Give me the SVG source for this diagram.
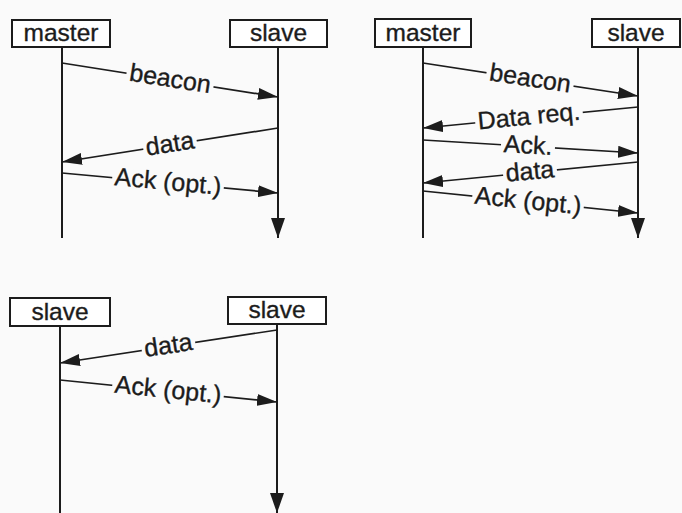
<svg xmlns="http://www.w3.org/2000/svg" width="682" height="513" viewBox="0 0 682 513">
  <style>
    .bg { fill: #fafafa; }
    .box { fill: #ffffff; stroke: #1c1c1c; stroke-width: 2; }
    .life { stroke: #1c1c1c; stroke-width: 2; fill: none; }
    .msg { stroke: #1c1c1c; stroke-width: 1.7; fill: none; }
    .name { font-family: "Liberation Sans", Arial, sans-serif; font-size: 24.5px; fill: #1c1c1c; stroke: #1c1c1c; stroke-width: 0.35; text-anchor: middle; }
    .lbl { font-family: "Liberation Sans", Arial, sans-serif; font-size: 25px; fill: #1c1c1c; stroke: #1c1c1c; stroke-width: 0.35; text-anchor: middle; }
    .lblbg { fill: #fafafa; }
  </style>
  <defs>
    <marker id="head" markerUnits="userSpaceOnUse" markerWidth="20" markerHeight="12" refX="20" refY="6" orient="auto">
      <path d="M0,0 L20,6 L0,12 Z" fill="#1c1c1c"/>
    </marker>
    <marker id="lifeEnd" markerUnits="userSpaceOnUse" markerWidth="20" markerHeight="14" refX="20" refY="7" orient="auto">
      <path d="M0,0 L20,7 L0,14 Z" fill="#1c1c1c"/>
    </marker>
  </defs>

  <rect class="bg" x="0" y="0" width="682" height="513"/>

  <!-- Scenario 1: beacon-triggered transfer -->
  <g id="p1-master">
    <line class="life" x1="62" y1="48" x2="62" y2="238"/>
    <rect class="box" x="12" y="20" width="98" height="27"/>
    <text class="name" x="61" y="41">master</text>
  </g>
  <g id="p1-slave">
    <line class="life" x1="278" y1="47" x2="278" y2="238" marker-end="url(#lifeEnd)"/>
    <rect class="box" x="230" y="20" width="97" height="27"/>
    <text class="name" x="278.5" y="41">slave</text>
  </g>

  <!-- Scenario 2: beacon with data request -->
  <g id="p2-master">
    <line class="life" x1="423" y1="48" x2="423" y2="238"/>
    <rect class="box" x="375" y="19" width="96" height="28"/>
    <text class="name" x="423" y="41">master</text>
  </g>
  <g id="p2-slave">
    <line class="life" x1="638" y1="47" x2="638" y2="238" marker-end="url(#lifeEnd)"/>
    <rect class="box" x="592" y="19" width="88" height="28"/>
    <text class="name" x="636" y="41">slave</text>
  </g>

  <!-- Scenario 3: peer-to-peer -->
  <g id="p3-slave-a">
    <line class="life" x1="60" y1="327" x2="60" y2="513"/>
    <rect class="box" x="10" y="298" width="100" height="28"/>
    <text class="name" x="60" y="320">slave</text>
  </g>
  <g id="p3-slave-b">
    <line class="life" x1="277" y1="325" x2="277" y2="513" marker-end="url(#lifeEnd)"/>
    <rect class="box" x="228" y="297" width="98" height="27"/>
    <text class="name" x="277" y="318">slave</text>
  </g>

  <g id="connectors">
    <!-- scenario 1 -->
    <line class="msg" x1="62" y1="63" x2="278" y2="97" marker-end="url(#head)"/>
    <g transform="translate(170,80) rotate(8.9)">
      <rect class="lblbg" x="-44" y="-10" width="88" height="20"/>
      <text class="lbl" x="0" y="7">beacon</text>
    </g>
    <line class="msg" x1="278" y1="128" x2="62" y2="162" marker-end="url(#head)"/>
    <g transform="translate(170,145) rotate(-8.9)">
      <rect class="lblbg" x="-27" y="-10" width="54" height="20"/>
      <text class="lbl" x="0" y="7">data</text>
    </g>
    <line class="msg" x1="62" y1="173" x2="278" y2="193" marker-end="url(#head)"/>
    <g transform="translate(168,183) rotate(5.3)">
      <rect class="lblbg" x="-56" y="-10" width="112" height="20"/>
      <text class="lbl" x="0" y="7">Ack (opt.)</text>
    </g>

    <!-- scenario 2 -->
    <line class="msg" x1="423" y1="63" x2="638" y2="96" marker-end="url(#head)"/>
    <g transform="translate(530,79.5) rotate(8.7)">
      <rect class="lblbg" x="-44" y="-10" width="88" height="20"/>
      <text class="lbl" x="0" y="7">beacon</text>
    </g>
    <line class="msg" x1="638" y1="107" x2="423" y2="128" marker-end="url(#head)"/>
    <g transform="translate(529,117.5) rotate(-5.6)">
      <rect class="lblbg" x="-54" y="-10" width="108" height="20"/>
      <text class="lbl" x="0" y="7">Data req.</text>
    </g>
    <line class="msg" x1="423" y1="140" x2="638" y2="153" marker-end="url(#head)"/>
    <g transform="translate(528,146.5) rotate(3.5)">
      <rect class="lblbg" x="-27" y="-10" width="54" height="20"/>
      <text class="lbl" x="0" y="7">Ack.</text>
    </g>
    <line class="msg" x1="638" y1="162" x2="423" y2="183" marker-end="url(#head)"/>
    <g transform="translate(530,172.5) rotate(-5.6)">
      <rect class="lblbg" x="-27" y="-10" width="54" height="20"/>
      <text class="lbl" x="0" y="7">data</text>
    </g>
    <line class="msg" x1="423" y1="191" x2="638" y2="213" marker-end="url(#head)"/>
    <g transform="translate(528,202) rotate(5.8)">
      <rect class="lblbg" x="-56" y="-10" width="112" height="20"/>
      <text class="lbl" x="0" y="7">Ack (opt.)</text>
    </g>

    <!-- scenario 3 -->
    <line class="msg" x1="277" y1="330" x2="60" y2="363" marker-end="url(#head)"/>
    <g transform="translate(168.5,346.5) rotate(-8.7)">
      <rect class="lblbg" x="-27" y="-10" width="54" height="20"/>
      <text class="lbl" x="0" y="7">data</text>
    </g>
    <line class="msg" x1="60" y1="380" x2="277" y2="402" marker-end="url(#head)"/>
    <g transform="translate(168,391) rotate(5.8)">
      <rect class="lblbg" x="-56" y="-10" width="112" height="20"/>
      <text class="lbl" x="0" y="7">Ack (opt.)</text>
    </g>
  </g>
</svg>
